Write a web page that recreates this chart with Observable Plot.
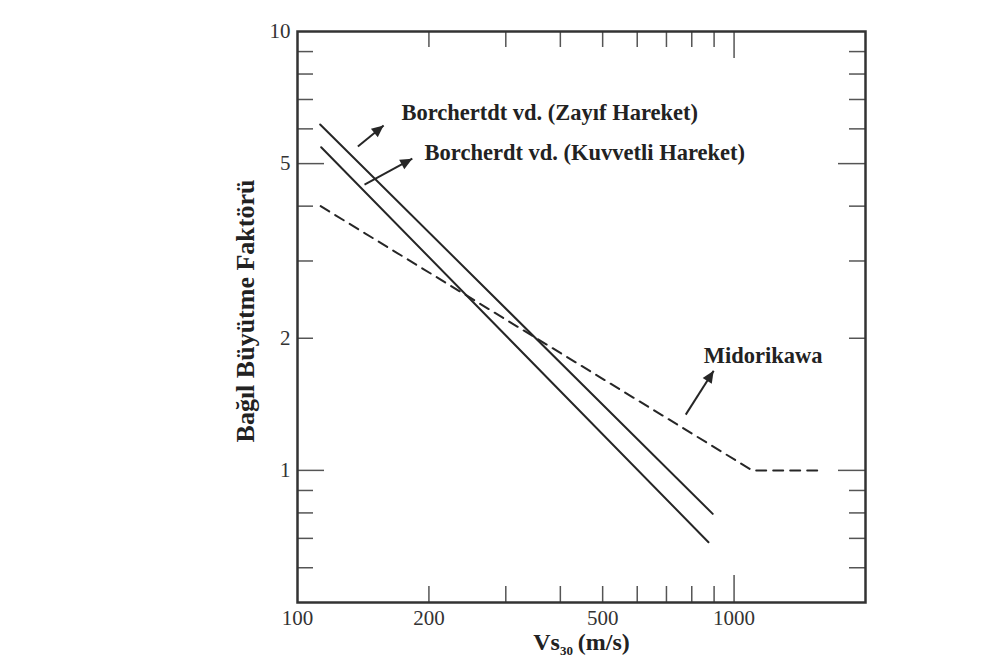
<!DOCTYPE html>
<html><head><meta charset="utf-8">
<script src="https://cdn.jsdelivr.net/npm/d3@7"></script>
<script src="https://cdn.jsdelivr.net/npm/@observablehq/plot@0.6"></script>
<style>
html,body{margin:0;padding:0;background:#fff;}
#chart{width:981px;height:661px;}
</style></head><body><div id="chart"></div>
<script>
// ---- data ----
const zayifVs = [112.7, 893.6];
const zayifFa = [6.14, 0.796];
const kuvvetliVs = [113.3, 873.7];
const kuvvetliFa = [5.45, 0.686];
const midoriVs = [113, 1100, 1575];
const midoriFa = [4.0, 1.0, 1.0];

const xTickLabels = [100, 200, 500, 1000];
const yTickLabels = [1, 2, 5, 10];
const xMinorTicks = [200, 300, 400, 500, 600, 700, 800, 900];
const xMajorTicks = [1000];
const yMinorTicks = [0.6, 0.7, 0.8, 0.9, 2, 3, 4, 6, 7, 8, 9];
const yMajorTicks = [1, 5];

const noteText = ["Borchertdt vd. (Zayıf Hareket)", "Borcherdt vd. (Kuvvetli Hareket)", "Midorikawa"];
const noteVs = [173, 195.5, 852];
const noteFa = [6.54, 5.30, 1.82];
const arrowVsFrom = [137.5, 142.4, 775];
const arrowFaFrom = [5.47, 4.48, 1.34];
const arrowVsTo = [157.5, 183.2, 898];
const arrowFaTo = [6.11, 5.13, 1.686];

const xTitle = "Vs30 (m/s)";
const yTitle = "Bağıl Büyütme Faktörü";

// ---- layout ----
const W = 981, H = 661;
const mL = 297, mR = 116, mT = 31, mB = 59;
const fw = W - mL - mR, fh = H - mT - mB;
const shortT = 16, longT = 27;
const ink = "#262626", tickInk = "#555";

const toRows = (xs, ys) => xs.map((x, i) => ({x, y: ys[i]}));
const idx = noteText.map((_, i) => i);

const svg = Plot.plot({
  width: W, height: H,
  marginLeft: mL, marginRight: mR, marginTop: mT, marginBottom: mB,
  style: {fontFamily: "'Liberation Serif', 'Times New Roman', serif", fontSize: "20px", background: "#fff", color: "#333"},
  x: {type: "log", domain: [100, 2000], axis: null},
  y: {type: "log", domain: [0.5, 10], axis: null},
  marks: [
    // inward ticks, bottom/top
    Plot.tickX(xMinorTicks, {x: d => d, insetTop: fh - shortT, stroke: tickInk, strokeWidth: 1.5}),
    Plot.tickX(xMinorTicks, {x: d => d, insetBottom: fh - shortT, stroke: tickInk, strokeWidth: 1.5}),
    Plot.tickX(xMajorTicks, {x: d => d, insetTop: fh - longT, stroke: tickInk, strokeWidth: 1.5}),
    Plot.tickX(xMajorTicks, {x: d => d, insetBottom: fh - longT, stroke: tickInk, strokeWidth: 1.5}),
    // inward ticks, left/right
    Plot.tickY(yMinorTicks, {y: d => d, insetRight: fw - shortT, stroke: tickInk, strokeWidth: 1.5}),
    Plot.tickY(yMinorTicks, {y: d => d, insetLeft: fw - shortT, stroke: tickInk, strokeWidth: 1.5}),
    Plot.tickY(yMajorTicks, {y: d => d, insetRight: fw - longT, stroke: tickInk, strokeWidth: 1.5}),
    Plot.tickY(yMajorTicks, {y: d => d, insetLeft: fw - longT, stroke: tickInk, strokeWidth: 1.5}),
    // tick labels
    Plot.axisX(xTickLabels, {tickSize: 0, tickPadding: 8, fontSize: 21, tickFormat: d => String(d), label: null, fill: "#333"}),
    Plot.axisY(yTickLabels, {tickSize: 0, tickPadding: 7, fontSize: 21, tickFormat: d => String(d), label: null, fill: "#333"}),
    // curves
    Plot.line(toRows(zayifVs, zayifFa), {x: "x", y: "y", stroke: ink, strokeWidth: 2}),
    Plot.line(toRows(kuvvetliVs, kuvvetliFa), {x: "x", y: "y", stroke: ink, strokeWidth: 2}),
    Plot.line(toRows(midoriVs, midoriFa), {x: "x", y: "y", stroke: ink, strokeWidth: 2, strokeDasharray: "10,7"}),
    // annotation arrows & labels
    Plot.link(idx, {x1: i => arrowVsFrom[i], y1: i => arrowFaFrom[i], x2: i => arrowVsTo[i], y2: i => arrowFaTo[i], stroke: ink, strokeWidth: 2}),
    Plot.text(idx, {x: i => noteVs[i], y: i => noteFa[i], text: i => noteText[i], textAnchor: "start", fontWeight: "bold", fontSize: 22.5, fill: "#222"}),
    // axis titles
    Plot.text([xTitle], {frameAnchor: "bottom", textAnchor: "middle", dy: 47, fontWeight: "bold", fontSize: 24, fill: "#222"}),
    Plot.text([yTitle], {frameAnchor: "left", textAnchor: "middle", rotate: -90, dx: -52, dy: -6, fontWeight: "bold", fontSize: 26, fill: "#222"}),
    Plot.frame({stroke: "#333", strokeWidth: 2.5})
  ]
});

// filled arrowheads on the annotation links
const ns = "http://www.w3.org/2000/svg";
const defs = document.createElementNS(ns, "defs");
const marker = document.createElementNS(ns, "marker");
marker.setAttribute("id", "ahead");
marker.setAttribute("viewBox", "0 0 10 10");
marker.setAttribute("refX", "10");
marker.setAttribute("refY", "5");
marker.setAttribute("markerWidth", "13");
marker.setAttribute("markerHeight", "12");
marker.setAttribute("markerUnits", "userSpaceOnUse");
marker.setAttribute("orient", "auto");
const mp = document.createElementNS(ns, "path");
mp.setAttribute("d", "M0,0.5L10,5L0,9.5Z");
mp.setAttribute("fill", ink);
marker.appendChild(mp);
defs.appendChild(marker);
svg.insertBefore(defs, svg.firstChild);
svg.querySelectorAll('g[aria-label="link"] path').forEach(p => p.setAttribute("marker-end", "url(#ahead)"));

// subscript in the x title
svg.querySelectorAll("text").forEach(t => {
  if (t.textContent === xTitle) {
    t.textContent = "";
    const a = document.createElementNS(ns, "tspan"); a.textContent = "Vs";
    const b = document.createElementNS(ns, "tspan"); b.textContent = "30"; b.setAttribute("font-size", "13"); b.setAttribute("dy", "5");
    const c = document.createElementNS(ns, "tspan"); c.textContent = "\u2009(m/s)"; c.setAttribute("dy", "-5");
    t.append(a, b, c);
  }
});

document.getElementById("chart").appendChild(svg);
</script>
</body></html>
